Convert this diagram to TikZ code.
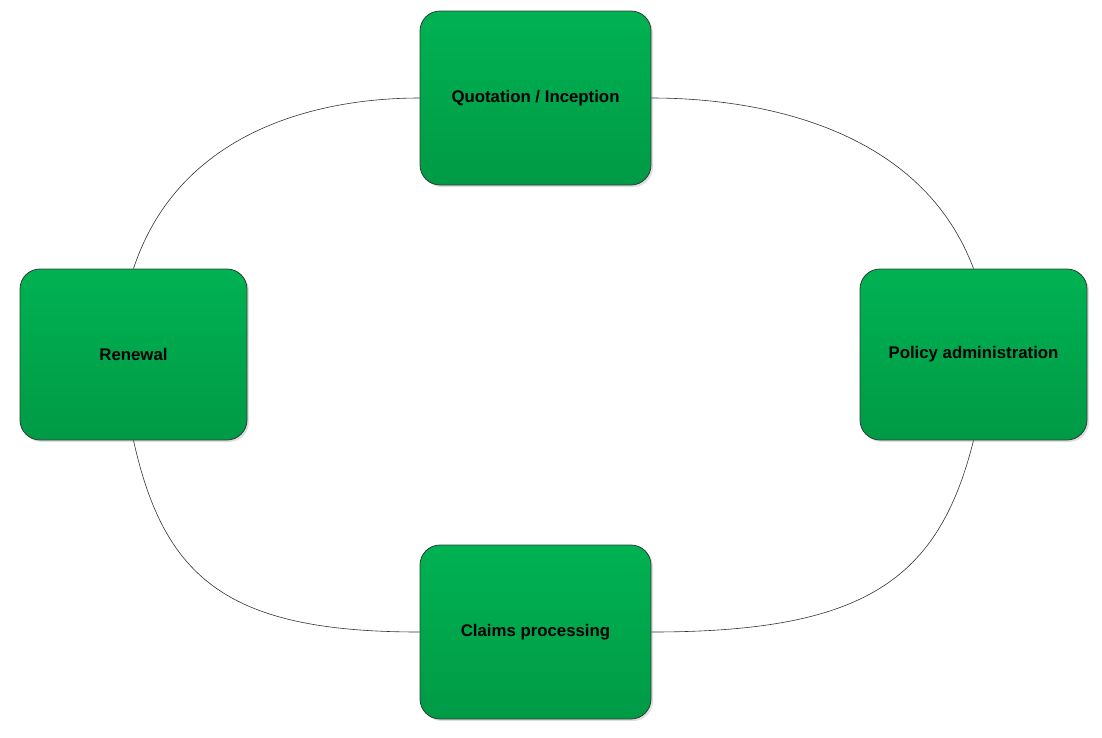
\documentclass[tikz,border=0pt]{standalone}
\usepackage{fontspec}
\setmainfont{Liberation Sans}
\usetikzlibrary{shadows}
\definecolor{gtop}{RGB}{0,178,82}
\definecolor{gbot}{RGB}{0,154,70}
\definecolor{gborder}{RGB}{50,60,55}
\tikzset{
  stage/.style={draw=gborder, line width=0.8pt, rounded corners=20pt,
    top color=gtop, bottom color=gbot,
    drop shadow={shadow xshift=2pt, shadow yshift=-2pt, opacity=0.25, fill=gray},
    font=\bfseries\fontsize{16.8}{20}\selectfont, text=black, inner sep=0pt},
  wide/.style={minimum width=231pt, minimum height=174pt},
  side/.style={minimum width=227pt, minimum height=171pt},
  link/.style={draw=black!80, line width=0.6pt}
}
\begin{document}
\begin{tikzpicture}[x=1pt,y=-1pt]
\useasboundingbox (0,0) rectangle (1102,737);
\node[stage,wide] (q) at (535.5,98) {Quotation / Inception};
\node[stage,side] (r) at (133.5,354.5) {Renewal};
\node[stage,side] (p) at (973.5,354.5) {Policy administration};
\node[stage,wide] (c) at (535.5,632) {Claims processing};
\draw[link] (q.east) .. controls +(112,0) and +(-52,-139) .. (p.north);
\draw[link] (q.west) .. controls +(-100,0) and +(46,-139) .. (r.north);
\draw[link] (c.east) .. controls +(213,0) and +(-35,140) .. (p.south);
\draw[link] (c.west) .. controls +(-190,0) and +(31,140) .. (r.south);
\end{tikzpicture}
\end{document}
